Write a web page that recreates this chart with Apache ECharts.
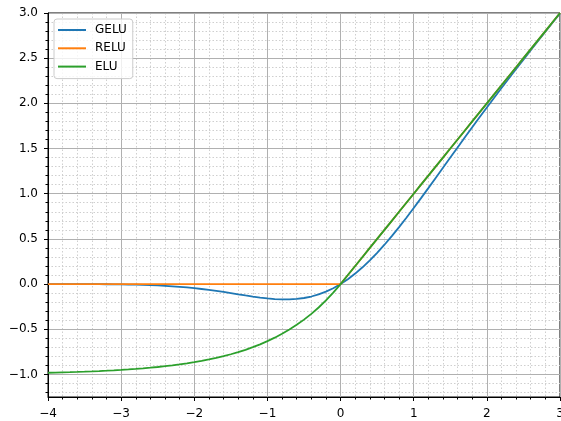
<!DOCTYPE html>
<html>
<head>
<meta charset="utf-8">
<script src="https://cdn.jsdelivr.net/npm/echarts@6/dist/echarts.min.js"></script>
<style>
  html, body { margin: 0; padding: 0; background: #fff; }
  #chart { width: 561px; height: 421px; }
</style>
</head>
<body>
<div id="chart"></div>
<script>
// Activation functions sampled every 0.1 on x in [-4, 3]
const xs = [
  -4.0, -3.9, -3.8, -3.7, -3.6, -3.5, -3.4, -3.3, -3.2, -3.1,
  -3.0, -2.9, -2.8, -2.7, -2.6, -2.5, -2.4, -2.3, -2.2, -2.1,
  -2.0, -1.9, -1.8, -1.7, -1.6, -1.5, -1.4, -1.3, -1.2, -1.1,
  -1.0, -0.9, -0.8, -0.7, -0.6, -0.5, -0.4, -0.3, -0.2, -0.1,
  0.0, 0.1, 0.2, 0.3, 0.4, 0.5, 0.6, 0.7, 0.8, 0.9,
  1.0, 1.1, 1.2, 1.3, 1.4, 1.5, 1.6, 1.7, 1.8, 1.9,
  2.0, 2.1, 2.2, 2.3, 2.4, 2.5, 2.6, 2.7, 2.8, 2.9,
  3.0];

const gelu = [
  -0.0001, -0.0002, -0.0003, -0.0004, -0.0006, -0.0008, -0.0011, -0.0016, -0.0022, -0.0030,
  -0.0040, -0.0054, -0.0072, -0.0094, -0.0121, -0.0155, -0.0197, -0.0247, -0.0306, -0.0375,
  -0.0455, -0.0546, -0.0647, -0.0758, -0.0877, -0.1002, -0.1131, -0.1258, -0.1381, -0.1492,
  -0.1587, -0.1657, -0.1695, -0.1694, -0.1646, -0.1543, -0.1378, -0.1146, -0.0841, -0.0460,
  0.0000, 0.0540, 0.1159, 0.1854, 0.2622, 0.3457, 0.4354, 0.5306, 0.6305, 0.7343,
  0.8413, 0.9508, 1.0619, 1.1742, 1.2869, 1.3998, 1.5123, 1.6242, 1.7353, 1.8454,
  1.9545, 2.0625, 2.1694, 2.2753, 2.3803, 2.4845, 2.5879, 2.6906, 2.7928, 2.8946,
  2.9960];

const relu = [
  0.0, 0.0, 0.0, 0.0, 0.0, 0.0, 0.0, 0.0, 0.0, 0.0,
  0.0, 0.0, 0.0, 0.0, 0.0, 0.0, 0.0, 0.0, 0.0, 0.0,
  0.0, 0.0, 0.0, 0.0, 0.0, 0.0, 0.0, 0.0, 0.0, 0.0,
  0.0, 0.0, 0.0, 0.0, 0.0, 0.0, 0.0, 0.0, 0.0, 0.0,
  0.0, 0.1, 0.2, 0.3, 0.4, 0.5, 0.6, 0.7, 0.8, 0.9,
  1.0, 1.1, 1.2, 1.3, 1.4, 1.5, 1.6, 1.7, 1.8, 1.9,
  2.0, 2.1, 2.2, 2.3, 2.4, 2.5, 2.6, 2.7, 2.8, 2.9,
  3.0];

const elu = [
  -0.9817, -0.9798, -0.9776, -0.9753, -0.9727, -0.9698, -0.9666, -0.9631, -0.9592, -0.9550,
  -0.9502, -0.9450, -0.9392, -0.9328, -0.9257, -0.9179, -0.9093, -0.8997, -0.8892, -0.8775,
  -0.8647, -0.8504, -0.8347, -0.8173, -0.7981, -0.7769, -0.7534, -0.7275, -0.6988, -0.6671,
  -0.6321, -0.5934, -0.5507, -0.5034, -0.4512, -0.3935, -0.3297, -0.2592, -0.1813, -0.0952,
  0.0, 0.1, 0.2, 0.3, 0.4, 0.5, 0.6, 0.7, 0.8, 0.9,
  1.0, 1.1, 1.2, 1.3, 1.4, 1.5, 1.6, 1.7, 1.8, 1.9,
  2.0, 2.1, 2.2, 2.3, 2.4, 2.5, 2.6, 2.7, 2.8, 2.9,
  3.0];

const seriesNames = ['GELU', 'RELU', 'ELU'];
const seriesColors = ['#1f77b4', '#ff7f0e', '#2ca02c'];

// y axis: major ticks every 0.5, minor every 0.1
const yMajorTicks = [-1.0, -0.5, 0.0, 0.5, 1.0, 1.5, 2.0, 2.5, 3.0];
const yMinorTicks = [-1.2, -1.1, -0.9, -0.8, -0.7, -0.6, -0.4, -0.3, -0.2, -0.1,
  0.1, 0.2, 0.3, 0.4, 0.6, 0.7, 0.8, 0.9, 1.1, 1.2, 1.3, 1.4, 1.6, 1.7, 1.8, 1.9,
  2.1, 2.2, 2.3, 2.4, 2.6, 2.7, 2.8, 2.9];
const yMin = -1.25, yMax = 3.0;
const xMin = -4, xMax = 3;

const FONT = 'DejaVu Sans';
const minus = v => String(v).replace('-', '\u2212');

const pairs = arr => xs.map((x, i) => [x, arr[i]]);
const dataSets = [gelu, relu, elu];

const chart = echarts.init(document.getElementById('chart'), null, { renderer: 'canvas' });

chart.setOption({
  animation: false,
  backgroundColor: '#ffffff',
  textStyle: { fontFamily: FONT },
  grid: {
    left: 48, right: 1, top: 13, bottom: 24,
    outerBoundsMode: 'none',
    containLabel: false,
    show: true, borderColor: '#000000', borderWidth: 1, backgroundColor: 'transparent'
  },
  legend: {
    left: 54, top: 19,
    orient: 'vertical',
    data: seriesNames,
    icon: 'rect',
    itemWidth: 28, itemHeight: 2,
    itemGap: 4.3,
    padding: [4, 6, 5, 4],
    backgroundColor: 'rgba(255,255,255,0.8)',
    borderColor: '#cccccc', borderWidth: 1, borderRadius: 3,
    textStyle: { fontFamily: FONT, fontSize: 12, lineHeight: 14, color: '#000', padding: [0, 0, 0, 4] }
  },
  xAxis: {
    type: 'value', min: xMin, max: xMax, interval: 1,
    axisLine: { show: true, onZero: false, lineStyle: { color: '#000', width: 1 } },
    axisTick: { show: true, inside: false, length: 4, lineStyle: { color: '#000', width: 1 } },
    minorTick: { show: true, splitNumber: 5, length: 2.5, lineStyle: { color: '#000', width: 1 } },
    axisLabel: { margin: 11, fontFamily: FONT, fontSize: 12, color: '#000', formatter: v => minus(v) },
    splitLine: { show: true, lineStyle: { color: '#b0b0b0', width: 1 } },
    minorSplitLine: { show: true, lineStyle: { color: '#cfcfcf', width: 1, type: [1.5, 2] } }
  },
  yAxis: [
    {
      type: 'value', min: yMin, max: yMax, position: 'left',
      axisLine: { show: true, onZero: false, lineStyle: { color: '#000', width: 1 } },
      axisTick: { show: true, inside: false, length: 4, customValues: yMajorTicks,
        lineStyle: { color: '#000', width: 1 } },
      axisLabel: { margin: 10, fontFamily: FONT, fontSize: 12, color: '#000',
        customValues: yMajorTicks, formatter: v => minus(v.toFixed(1)) },
      splitLine: { show: true, lineStyle: { color: '#b0b0b0', width: 1 } },
      z: 2
    },
    {
      type: 'value', min: yMin, max: yMax, position: 'left',
      axisLine: { show: false, onZero: false },
      axisTick: { show: true, inside: false, length: 2.5, customValues: yMinorTicks,
        lineStyle: { color: '#000', width: 1 } },
      axisLabel: { show: false, customValues: yMinorTicks },
      splitLine: { show: true, lineStyle: { color: '#cfcfcf', width: 1, type: [1.5, 2] } },
      z: 1
    }
  ],
  series: seriesNames.map((name, i) => ({
    name,
    type: 'line',
    yAxisIndex: 0,
    data: pairs(dataSets[i]),
    showSymbol: false,
    symbol: 'none',
    smooth: false,
    clip: true,
    color: seriesColors[i],
    lineStyle: { color: seriesColors[i], width: 1.8 },
    z: 3 + i
  }))
});
</script>
</body>
</html>
